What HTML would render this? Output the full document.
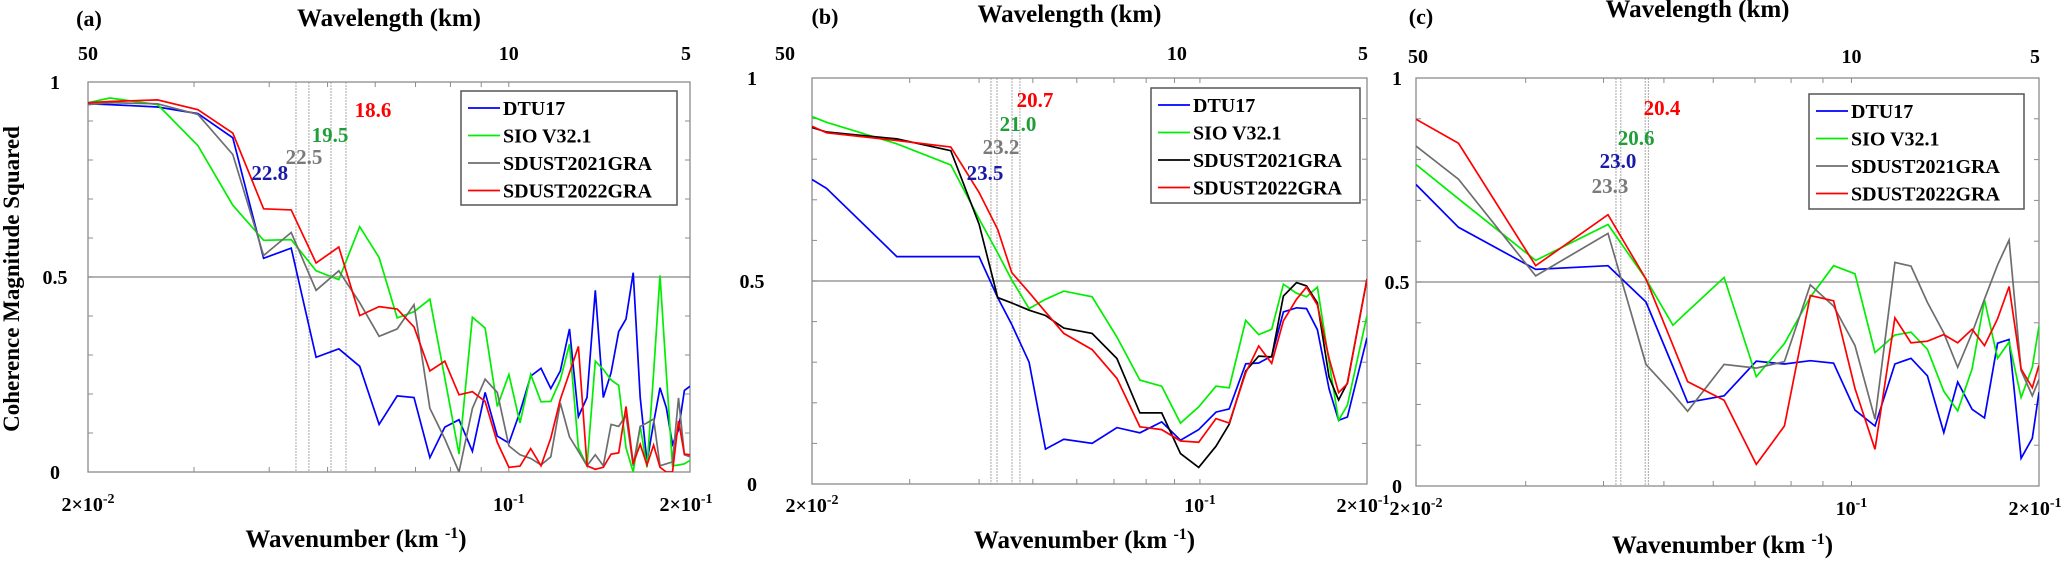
<!DOCTYPE html>
<html><head><meta charset="utf-8"><style>
html,body{margin:0;padding:0;background:#fff;}
svg{display:block;font-family:"Liberation Serif",serif;font-weight:bold;}
</style></head><body>
<svg id="chart" width="2067" height="562" viewBox="0 0 2067 562" xmlns="http://www.w3.org/2000/svg"></svg>
<script>
// ---------- Panel (a) data ----------
const kA = [0.02,0.02175,0.0261,0.03045,0.0348,0.03915,0.0435,0.04785,0.0522,0.05655,0.0609,0.06525,0.0696,0.07395,0.0783,0.08265,0.087,0.09135,0.0957,0.10005,0.1044,0.10875,0.1131,0.11745,0.1218,0.12615,0.1305,0.13485,0.1392,0.14355,0.1479,0.15225,0.1566,0.16095,0.1653,0.16965,0.174,0.17835,0.1827,0.18705,0.1914,0.19575,0.2001];
const dtuA = [.944,.942,.936,.919,.857,.548,.574,.294,.316,.271,.122,.195,.191,.037,.115,.134,.053,.204,.092,.074,.154,.246,.266,.214,.259,.367,.142,.191,.466,.191,.255,.360,.392,.511,.191,.026,.126,.216,.165,.071,.108,.209,.220];
const sioA = [.947,.959,.942,.837,.684,.594,.596,.516,.493,.629,.550,.395,.411,.443,.241,.046,.397,.369,.168,.250,.126,.250,.180,.181,.236,.328,.062,.016,.284,.263,.236,.222,.062,0,.117,.012,.254,.504,.254,.016,.018,.021,.030];
const s21A = [.942,.947,.944,.917,.814,.555,.614,.466,.516,.434,.348,.367,.429,.163,.085,0,.163,.238,.204,.067,.044,.035,.018,.039,.177,.090,.053,.016,.044,.016,.122,.117,.145,.016,.117,.126,.136,.016,.021,.026,.190,.044,.039];
const s22A = [.947,.950,.954,.929,.869,.675,.672,.536,.577,.401,.424,.418,.372,.259,.284,.198,.206,.181,.076,.012,.015,.060,.016,.087,.186,.255,.322,.016,.007,.012,.046,.049,.168,.021,.071,.018,.069,.012,0,0,.131,.046,.044];
const lineKA = [0.04431,0.04656,0.05066,0.05365];
const labTextA = ["22.8","22.5","19.5","18.6"];
const labKA = [0.04008,0.04569,0.05047,0.05949];
const labVA = [0.767,0.808,0.864,0.928];

// ---------- Panel (b) data ----------
const kB = [0.02,0.02125,0.02843,0.03557,0.04,0.04322,0.04579,0.04922,0.0527,0.05686,0.06394,0.07087,0.07797,0.08534,0.09224,0.09948,0.1069,0.1129,0.1209,0.1276,0.1347,0.1414,0.1493,0.1556,0.1628,0.1709,0.1778,0.1844,0.2];
const dtuB = [.750,.728,.560,.560,.560,.459,.393,.300,.086,.110,.100,.139,.126,.153,.108,.134,.177,.185,.296,.298,.315,.424,.434,.432,.380,.234,.157,.165,.360];
const sioB = [.905,.891,.838,.786,.653,.569,.503,.432,.455,.475,.461,.362,.256,.241,.150,.190,.241,.237,.403,.368,.381,.492,.470,.461,.485,.300,.157,.194,.415];
const s21B = [.878,.867,.850,.821,.640,.459,.446,.428,.415,.384,.371,.309,.175,.175,.075,.041,.093,.147,.278,.315,.313,.463,.496,.488,.446,.263,.207,.249,.505];
const s22B = [.881,.865,.846,.830,.718,.627,.521,.472,.424,.371,.331,.260,.141,.134,.106,.103,.161,.150,.274,.340,.297,.402,.455,.485,.441,.309,.225,.247,.505];
const lineKB = [0.04202,0.04309,0.04586,0.04739];
const labTextB = ["23.5","23.2","21.0","20.7"];
const labKB = [0.04100,0.04381,0.04700,0.05044];
const labVB = [0.766,0.830,0.887,0.946];

// ---------- Panel (c) data ----------
const kC = [0.02,0.0234,0.03113,0.04066,0.0468,0.05168,0.05458,0.06246,0.07034,0.07806,0.0859,0.09362,0.1013,0.1091,0.1174,0.1246,0.1324,0.1407,0.1481,0.1562,0.1635,0.1716,0.1791,0.1872,0.1951,0.2];
const dtuC = [.739,.634,.531,.540,.451,.293,.205,.221,.306,.299,.307,.301,.186,.147,.299,.313,.270,.131,.255,.188,.167,.350,.359,.068,.117,.230];
const sioC = [.788,.704,.553,.641,.507,.394,.428,.511,.268,.349,.463,.540,.520,.327,.370,.377,.335,.232,.184,.287,.456,.313,.353,.217,.291,.392];
const s21C = [.833,.752,.515,.619,.298,.226,.183,.298,.289,.305,.493,.441,.344,.164,.548,.539,.450,.375,.291,.375,.458,.542,.603,.283,.221,.261];
const s22C = [.899,.840,.540,.665,.507,.345,.256,.210,.053,.147,.467,.454,.239,.090,.412,.351,.355,.371,.351,.384,.344,.410,.489,.287,.241,.296];
const lineKC = [0.04188,0.04264,0.04666,0.04721];
const labTextC = ["23.0","23.3","20.6","20.4"];
const labKC = [0.04219,0.04097,0.04511,0.04964];
const labVC = [0.797,0.735,0.853,0.926];

const seriesNames = ["DTU17","SIO V32.1","SDUST2021GRA","SDUST2022GRA"];
const yTicks = [0,0.5,1];
const yTickLabels = ["0","0.5","1"];

const NS = "http://www.w3.org/2000/svg";
const svg = document.getElementById('chart');
function mk(tag, attrs, parent){
  const e = document.createElementNS(NS, tag);
  for (const k in attrs) e.setAttribute(k, attrs[k]);
  (parent||svg).appendChild(e);
  return e;
}

const panels = [
  {id:'a', L:88, T:82, R:690, B:472, k:kA, s:[dtuA,sioA,s21A,s22A], lk:lineKA, lt:labTextA, lkk:labKA, lv:labVA,
   colors:['#0000ff','#00ee00','#6e6e6e','#ff0000'], leg:[461,91,216,114], ylx:55, yTitle:true,
   tag:[89,26], top50:0, top10:0, botY:511, titleY:547, wlY:26, topLblY:60},
  {id:'b', L:812, T:78, R:1367, B:484, k:kB, s:[dtuB,sioB,s21B,s22B], lk:lineKB, lt:labTextB, lkk:labKB, lv:labVB,
   colors:['#0000ff','#00ee00','#000000','#ff0000'], leg:[1151,88,209,115], ylx:752, yTitle:false,
   tag:[825,24], top50:-27, top10:-23, botY:512, titleY:548, wlY:22, topLblY:60},
  {id:'c', L:1416, T:78, R:2039, B:486, k:kC, s:[dtuC,sioC,s21C,s22C], lk:lineKC, lt:labTextC, lkk:labKC, lv:labVC,
   colors:['#0000ff','#00ee00','#6e6e6e','#ff0000'], leg:[1809,94,215,115], ylx:1397, yTitle:false,
   tag:[1421,24], top50:2, top10:0, botY:515, titleY:553, wlY:17, topLblY:63}
];
const labColors = ['#1a1aa8','#7a7a7a','#1f9e3a','#ff0000'];

panels.forEach(p=>{
  const W = p.R-p.L, H = p.B-p.T;
  const xs = k => p.L + Math.log10(k/0.02)*W;
  const ys = v => p.B - v*H;
  const g = mk('g',{});
  
  

  // clip
  const cp = mk('clipPath',{id:'clip'+p.id}, g);
  mk('rect',{x:p.L,y:p.T,width:W,height:H}, cp);

  // 0.5 reference line
  const ref = mk('line',{x1:p.L,x2:p.R,y1:ys(0.5),y2:ys(0.5),stroke:'#9a9a9a','stroke-width':1.6}, g);
  
  

  // vertical resolution lines
  p.lk.forEach((k,i)=>{
    const vl = mk('line',{x1:xs(k),x2:xs(k),y1:p.T,y2:p.B,stroke:'#a8a8a8','stroke-width':1,'stroke-dasharray':'2,1'}, g);
    
    
  });

  // axes box
  const box = mk('rect',{x:p.L,y:p.T,width:W,height:H,fill:'none',stroke:'#8c8c8c','stroke-width':1.3}, g);
  
  
  // y ticks
  for (let i=1;i<10;i++){
    const y = ys(i/10);
    mk('line',{x1:p.L,x2:p.L+5,y1:y,y2:y,stroke:'#8c8c8c'}, g);
    mk('line',{x1:p.R-5,x2:p.R,y1:y,y2:y,stroke:'#8c8c8c'}, g);
  }
  // x minor ticks
  [0.03,0.04,0.05,0.06,0.07,0.08,0.09,0.1].forEach(k=>{
    const x = xs(k);
    mk('line',{x1:x,x2:x,y1:p.B,y2:p.B-5,stroke:'#8c8c8c'}, g);
    mk('line',{x1:x,x2:x,y1:p.T,y2:p.T+5,stroke:'#8c8c8c'}, g);
  });

  // series
  p.s.forEach((arr,si)=>{
    const d = arr.map((v,i)=>(i?'L':'M')+xs(p.k[i]).toFixed(1)+','+ys(v).toFixed(1)).join(' ');
    const path = mk('path',{d:d,fill:'none',stroke:p.colors[si],'stroke-width':1.7,'clip-path':'url(#clip'+p.id+')'}, g);
    
    
  });

  // resolution labels
  p.lt.forEach((t,i)=>{
    const tx = mk('text',{x:xs(p.lkk[i]),y:ys(p.lv[i])+7,'text-anchor':'middle','font-size':21,fill:labColors[i]}, g);
    tx.textContent = t;
    
    
  });

  // y tick labels
  yTicks.forEach((v,i)=>{
    const tx = mk('text',{x:p.ylx,y:ys(v)+7,'text-anchor':'middle','font-size':20}, g);
    tx.textContent = yTickLabels[i];
    
    
  });

  // bottom tick labels
  function sciLabel(x, pre, exp){
    const tx = mk('text',{x:x,y:p.botY,'text-anchor':'middle','font-size':20}, g);
    
    
    const a = mk('tspan',{}, tx); a.textContent = pre;
    const b = mk('tspan',{dy:-8,'font-size':14}, tx); b.textContent = exp;
    return tx;
  }
  sciLabel(p.L, '2×10', '-2');
  sciLabel(xs(0.1), '10', '-1');
  sciLabel(p.R-4, '2×10', '-1');

  // top tick labels (wavelength)
  [[p.L+p.top50,'50'],[xs(0.1)+p.top10,'10'],[p.R-4,'5']].forEach(([x,t])=>{
    const tx = mk('text',{x:x,y:p.topLblY,'text-anchor':'middle','font-size':20}, g);
    tx.textContent = t;
    
    
  });

  // titles
  const wt = mk('text',{x:(p.L+p.R)/2-(p.id==='c'?30:0)+(p.id==='b'?-20:0),y:p.wlY,'text-anchor':'middle','font-size':25}, g);
  wt.textContent = 'Wavelength (km)';
  
  

  const xt = mk('text',{x:(p.L+p.R)/2+(p.id==='a'?-33:-5),y:p.titleY,'text-anchor':'middle','font-size':25}, g);
  
  
  const x1 = mk('tspan',{}, xt); x1.textContent = 'Wavenumber (km ';
  const x2 = mk('tspan',{dy:-9,'font-size':16}, xt); x2.textContent = '-1';
  const x3 = mk('tspan',{dy:9}, xt); x3.textContent = ')';

  const tag = mk('text',{x:p.tag[0],y:p.tag[1],'text-anchor':'middle','font-size':22}, g);
  tag.textContent = '('+p.id+')';
  
  

  if (p.yTitle){
    const yt = mk('text',{x:0,y:0,'text-anchor':'middle','font-size':23,transform:'translate(19,279) rotate(-90)'}, g);
    yt.textContent = 'Coherence Magnitude Squared';
    
    
  }

  // legend
  const [lx,ly,lw,lh] = p.leg;
  const lg = mk('g',{}, g);
  
  
  mk('rect',{x:lx,y:ly,width:lw,height:lh,fill:'#fff',stroke:'#555','stroke-width':1.5}, lg);
  seriesNames.forEach((n,i)=>{
    const yy = ly + 17 + i*27.5;
    const en = mk('g',{}, lg);
    
    
    mk('line',{x1:lx+7,x2:lx+39,y1:yy,y2:yy,stroke:p.colors[i],'stroke-width':1.8}, en);
    const t = mk('text',{x:lx+42,y:yy+7,'font-size':20}, en);
    t.textContent = n;
  });
});
</script>
</body></html>
